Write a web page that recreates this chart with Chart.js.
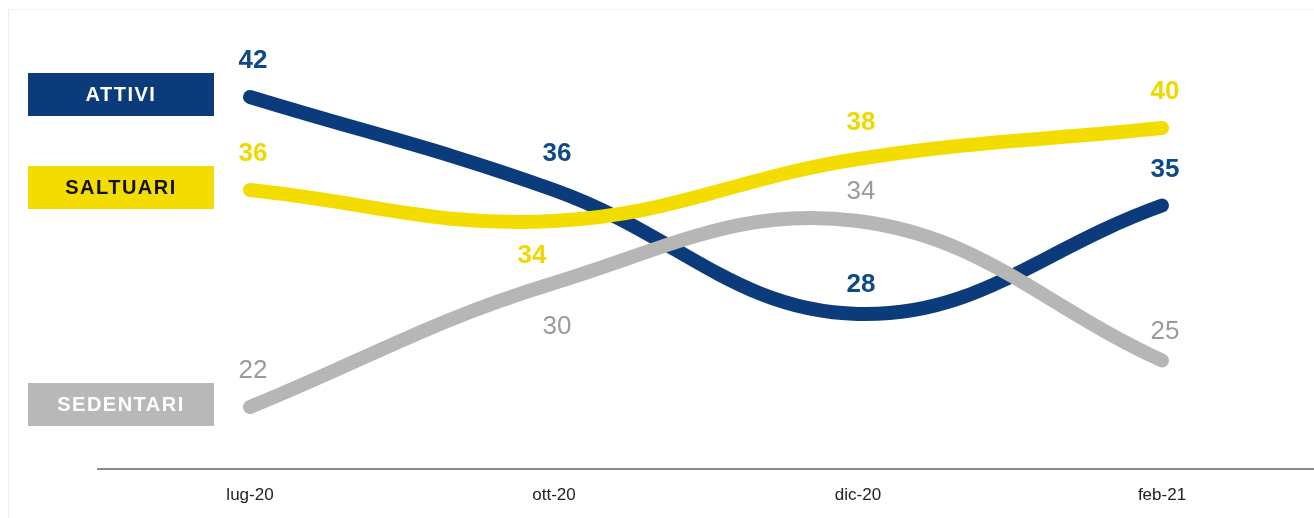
<!DOCTYPE html>
<html>
<head>
<meta charset="utf-8">
<script src="https://cdn.jsdelivr.net/npm/chart.js@4/dist/chart.umd.min.js"></script>
<style>
  html, body { margin: 0; padding: 0; background: #fff; }
  #wrap { position: relative; width: 1314px; height: 518px; }
  #frame { position: absolute; left: 8px; top: 9px; right: 0; bottom: 0; border-left: 1px solid #eeeeee; border-top: 1px solid #f2f2f2; pointer-events: none; }
</style>
</head>
<body>
<div id="wrap">
  <canvas id="chart" width="1314" height="518"></canvas>
  <div id="frame"></div>
</div>
<script>
// categories and series values
const months = ['lug-20', 'ott-20', 'dic-20', 'feb-21'];
const attivi = [42, 36, 28, 35];
const saltuari = [36, 34, 38, 40];
const sedentari = [22, 30, 34, 25];
const seriesNames = ['ATTIVI', 'SALTUARI', 'SEDENTARI'];

// where each value label sits relative to its point
const attiviLabelPos = ['up', 'up', 'upnear', 'up'];
const saltuariLabelPos = ['up', 'downleft', 'up', 'up'];
const sedentariLabelPos = ['up', 'down', 'upnear', 'upnear'];

const colors = {
    ATTIVI: { line: '#0c3b7b', label: '#0d4a86', box: '#0c3b7b', boxText: '#ffffff', bold: true },
    SALTUARI: { line: '#f3dd00', label: '#efd800', box: '#f3dd00', boxText: '#111111', bold: true },
    SEDENTARI: { line: '#b6b6b6', label: '#9b9b9b', box: '#b8b8b8', boxText: '#ffffff', bold: false }
};

const FONT = '"Liberation Sans", Arial, sans-serif';

// draws the value labels and the coloured name boxes on the left
const labelPlugin = {
    id: 'valueLabels',
    afterDatasetsDraw(chart) {
        const ctx = chart.ctx;
        const yScale = chart.scales.y;
        ctx.save();
        chart.data.datasets.forEach((ds, di) => {
            const meta = chart.getDatasetMeta(di);
            const style = colors[ds.label];
            ctx.fillStyle = style.label;
            ctx.font = (style.bold ? 'bold ' : '') + '26px ' + FONT;
            ctx.textAlign = 'center';
            ctx.textBaseline = 'middle';
            meta.data.forEach((pt, i) => {
                const pos = ds.labelPos[i];
                let x = pt.x + 3;
                let y = pt.y - 36;
                if (pos === 'upnear') y = pt.y - 29;
                if (pos === 'down') y = pt.y + 44;
                if (pos === 'downleft') { y = pt.y + 35; x = pt.x - 22; }
                ctx.fillText(String(ds.data[i]), x, y);
            });

            // name box aligned to the first value
            const cy = yScale.getPixelForValue(ds.data[0]) - 3;
            ctx.fillStyle = style.box;
            ctx.fillRect(28, cy - 21, 186, 43);
            ctx.fillStyle = style.boxText;
            ctx.font = 'bold 20px ' + FONT;
            ctx.letterSpacing = '1.5px';
            ctx.fillText(ds.label, 121, cy + 1);
            ctx.letterSpacing = '0px';
        });
        ctx.restore();
    }
};

const ctx = document.getElementById('chart').getContext('2d');
new Chart(ctx, {
    type: 'line',
    data: {
        labels: months,
        datasets: [
            { label: seriesNames[0], data: attivi, labelPos: attiviLabelPos, borderColor: colors.ATTIVI.line, order: 3 },
            { label: seriesNames[1], data: saltuari, labelPos: saltuariLabelPos, borderColor: colors.SALTUARI.line, order: 2 },
            { label: seriesNames[2], data: sedentari, labelPos: sedentariLabelPos, borderColor: colors.SEDENTARI.line, order: 1 }
        ].map(d => Object.assign(d, {
            borderWidth: 14,
            borderCapStyle: 'round',
            borderJoinStyle: 'round',
            tension: 0.4,
            pointRadius: 0,
            fill: false
        }))
    },
    options: {
        responsive: false,
        animation: false,
        layout: { padding: { left: 98, right: 0, top: 35, bottom: 0 } },
        plugins: { legend: { display: false }, tooltip: { enabled: false } },
        scales: {
            x: {
                offset: true,
                grid: { display: false, drawTicks: false },
                border: { display: true, color: '#8a8a8a', width: 2 },
                ticks: { color: '#222222', font: { family: FONT, size: 17 }, padding: 16 },
                afterFit(scale) { scale.height = 49; }
            },
            y: {
                display: false,
                min: 18,
                max: 46
            }
        }
    },
    plugins: [labelPlugin]
});
</script>
</body>
</html>
